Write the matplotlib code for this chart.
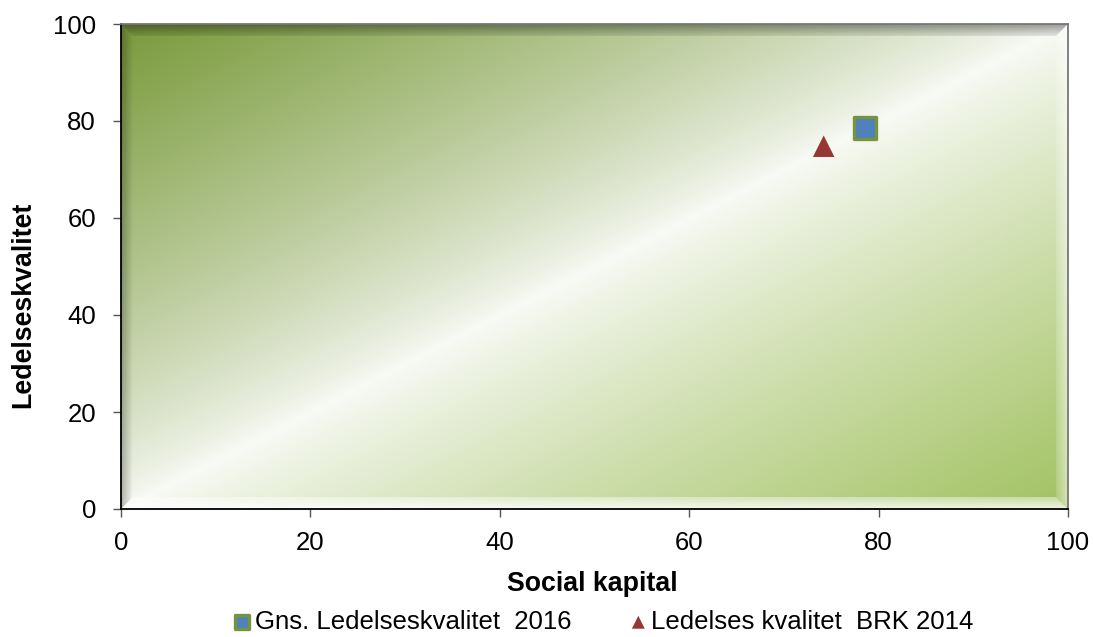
import numpy as np
import matplotlib
matplotlib.use("Agg")
import matplotlib.pyplot as plt
from matplotlib.patches import Polygon
from matplotlib.colors import to_rgb

plt.rcParams['font.family'] = ['Liberation Sans', 'DejaVu Sans']

series_names = ["Gns. Ledelseskvalitet  2016", "Ledelses kvalitet  BRK 2014"]
x_social = [78.6, 74.2]
y_ledelse = [78.5, 74.8]
ticks = [0, 20, 40, 60, 80, 100]

fig = plt.figure(figsize=(10.93, 6.37), dpi=100)
ax = fig.add_axes([121/1093, 1 - 509/637, 947/1093, 485/637])
ax.set_xlim(0, 100)
ax.set_ylim(0, 100)

# background gradient
n = 500
xs = np.linspace(0, 1, n)
ys = np.linspace(1, 0, n)
X, Y = np.meshgrid(xs, ys)
d = X - Y  # -1 top-left, +1 bottom-right
c_tl = np.array(to_rgb('#799a3b'))
c_br = np.array(to_rgb('#a2c262'))
white = np.array([0.975, 0.98, 0.965])
fneg = (np.clip(-d, 0, 1) ** 0.8)[..., None]
fpos = (np.clip(d, 0, 1) ** 0.85)[..., None]
img = np.clip(white * (1 - fneg - fpos) + c_tl * fneg + c_br * fpos, 0, 1)
ax.imshow(img, extent=[0, 100, 0, 100], aspect='auto', zorder=0, interpolation='bilinear')

# bevel with gradients
bx = 100 * 12 / 947
by = 100 * 12 / 485

def bevel(poly, color, a_out, a_in, orient):
    g = np.linspace(0, 1, 64)
    if orient == 'top':
        A = np.tile((a_out + (a_in - a_out) * g)[:, None], (1, 2))
    elif orient == 'bottom':
        A = np.tile((a_in + (a_out - a_in) * g)[:, None], (1, 2))
    elif orient == 'left':
        A = np.tile((a_out + (a_in - a_out) * g)[None, :], (2, 1))
    else:
        A = np.tile((a_in + (a_out - a_in) * g)[None, :], (2, 1))
    rgba = np.zeros(A.shape + (4,))
    rgba[..., :3] = to_rgb(color)
    rgba[..., 3] = A
    xs_ = [p[0] for p in poly]
    ys_ = [p[1] for p in poly]
    im = ax.imshow(rgba, extent=[min(xs_), max(xs_), min(ys_), max(ys_)],
                   aspect='auto', zorder=1, interpolation='bilinear')
    patch = Polygon(poly, closed=True, facecolor='none', edgecolor='none', transform=ax.transData)
    ax.add_patch(patch)
    im.set_clip_path(patch)

bevel([[0, 100], [100, 100], [100 - bx, 100 - by], [bx, 100 - by]], 'black', 0.38, 0.08, 'top')
bevel([[0, 0], [0, 100], [bx, 100 - by], [bx, by]], 'black', 0.28, 0.0, 'left')
bevel([[0, 0], [100, 0], [100 - bx, by], [bx, by]], 'white', 0.85, 0.35, 'bottom')
bevel([[100, 0], [100, 100], [100 - bx, 100 - by], [100 - bx, by]], 'white', 0.55, 0.15, 'right')
ax.set_xlim(0, 100)
ax.set_ylim(0, 100)

ax.scatter([x_social[0]], [y_ledelse[0]], marker='s', s=270, facecolor='#4f81bd',
           edgecolor='#77933c', linewidth=2.4, zorder=5, label=series_names[0])
ax.scatter([x_social[1]], [y_ledelse[1]], marker='^', s=240, facecolor='#953735',
           edgecolor='none', zorder=5, label=series_names[1])

for s in ['top', 'right']:
    ax.spines[s].set_color('#777777')
    ax.spines[s].set_linewidth(1.3)
for s in ['left', 'bottom']:
    ax.spines[s].set_color('black')
    ax.spines[s].set_linewidth(1.3)

ax.set_xticks(ticks)
ax.set_yticks(ticks)
ax.tick_params(axis='both', direction='out', length=6, width=1, labelsize=18.5, color='#555555')
ax.tick_params(axis='x', pad=9.5)
ax.tick_params(axis='y', pad=12)
ax.set_xlabel('Social kapital', fontsize=19.3, fontweight='bold')
ax.set_ylabel('Ledelseskvalitet', fontsize=19.3, fontweight='bold')
ax.xaxis.set_label_coords((592 - 121) / 947, (509 - 584) / 485)
ax.yaxis.set_label_coords((23 - 121) / 947, (509 - 305) / 485)
ax.xaxis.label.set_va('center')
ax.yaxis.label.set_va('center')

leg = fig.legend(loc='center', bbox_to_anchor=(604 / 1093, 1 - 622 / 637), ncol=2, frameon=False,
                 fontsize=18.5, handletextpad=0.2, columnspacing=2.3, markerscale=0.6,
                 handlelength=0.6, borderpad=0, borderaxespad=0)

fig.savefig('out.png', dpi=100)
